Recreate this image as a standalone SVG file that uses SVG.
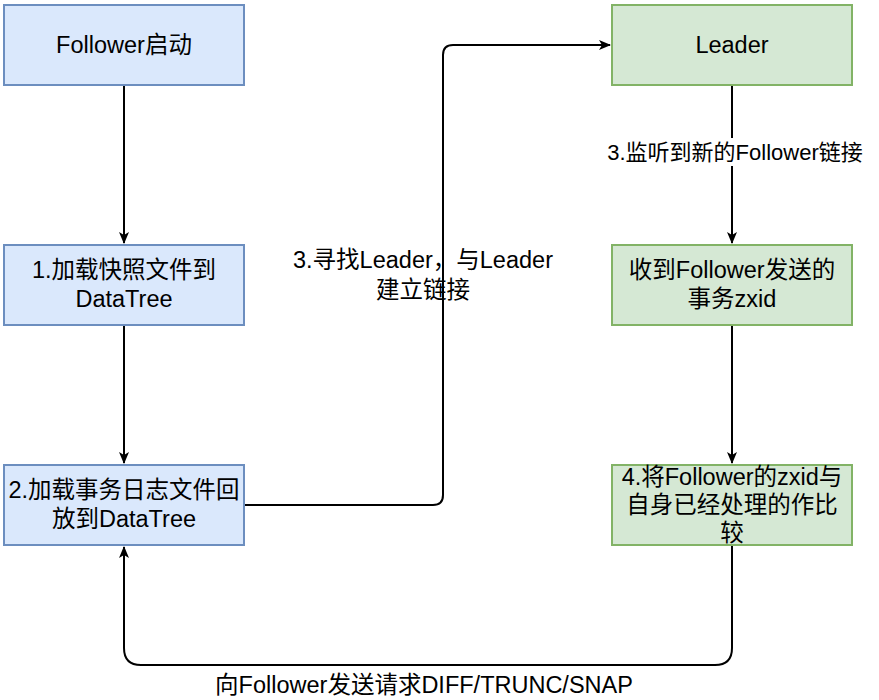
<svg xmlns="http://www.w3.org/2000/svg" width="879" height="700" viewBox="0 0 879 700">
<style>
.blue{fill:#dae8fc;stroke:#6c8ebf;stroke-width:2}
.green{fill:#d5e8d4;stroke:#82b366;stroke-width:2}
text{font-family:"Liberation Sans","Noto Sans CJK SC",sans-serif;font-size:23.5px;fill:#000;text-anchor:middle;dominant-baseline:central}
.lbl{font-size:23.5px}
.lbl2{font-size:22px}
.edge{fill:none;stroke:#000;stroke-width:2}
</style>
<defs>
<marker id="arr" viewBox="0 0 12 12" refX="11" refY="6" markerWidth="12" markerHeight="12" markerUnits="userSpaceOnUse" orient="auto">
<path d="M0,1 L12,6 L0,11 L3,6 z" fill="#000"/>
</marker>
</defs>
<rect width="879" height="700" fill="#fff"/>
<g id="edges">
<path class="edge" d="M124,86 V243" marker-end="url(#arr)"/>
<path class="edge" d="M124,326 V463" marker-end="url(#arr)"/>
<path class="edge" d="M245,505 H433 Q443,505 443,495 V55 Q443,45 453,45 H610" marker-end="url(#arr)"/>
<path class="edge" d="M732,86 V243" marker-end="url(#arr)"/>
<path class="edge" d="M732,326 V463" marker-end="url(#arr)"/>
<path class="edge" d="M732,546 V648 Q732,665 715,665 H141 Q124,665 124,648 V547" marker-end="url(#arr)"/>
<rect x="606" y="138" width="258" height="28" fill="#fff"/>
<text class="lbl2" x="735" y="152">3.监听到新的Follower链接</text>
<text class="lbl" x="423" y="260">3.寻找Leader，与Leader</text>
<text class="lbl" x="423" y="290">建立链接</text>
<text class="lbl" x="424" y="685">向Follower发送请求DIFF/TRUNC/SNAP</text>
</g>
<g id="n1">
<rect class="blue" x="4" y="5" width="240" height="80"/>
<text x="124" y="45">Follower启动</text>
</g>
<g id="n2">
<rect class="blue" x="4" y="245" width="240" height="80"/>
<text x="124" y="270">1.加载快照文件到</text>
<text x="124" y="299">DataTree</text>
</g>
<g id="n3">
<rect class="blue" x="4" y="465" width="240" height="80"/>
<text x="124" y="490">2.加载事务日志文件回</text>
<text x="124" y="519">放到DataTree</text>
</g>
<g id="n4">
<rect class="green" x="612" y="5" width="240" height="80"/>
<text x="732" y="45">Leader</text>
</g>
<g id="n5">
<rect class="green" x="612" y="245" width="240" height="80"/>
<text x="732" y="270">收到Follower发送的</text>
<text x="732" y="299">事务zxid</text>
</g>
<g id="n6">
<rect class="green" x="612" y="465" width="240" height="80"/>
<text x="732" y="477">4.将Follower的zxid与</text>
<text x="732" y="505">自身已经处理的作比</text>
<text x="732" y="533">较</text>
</g>
</svg>
